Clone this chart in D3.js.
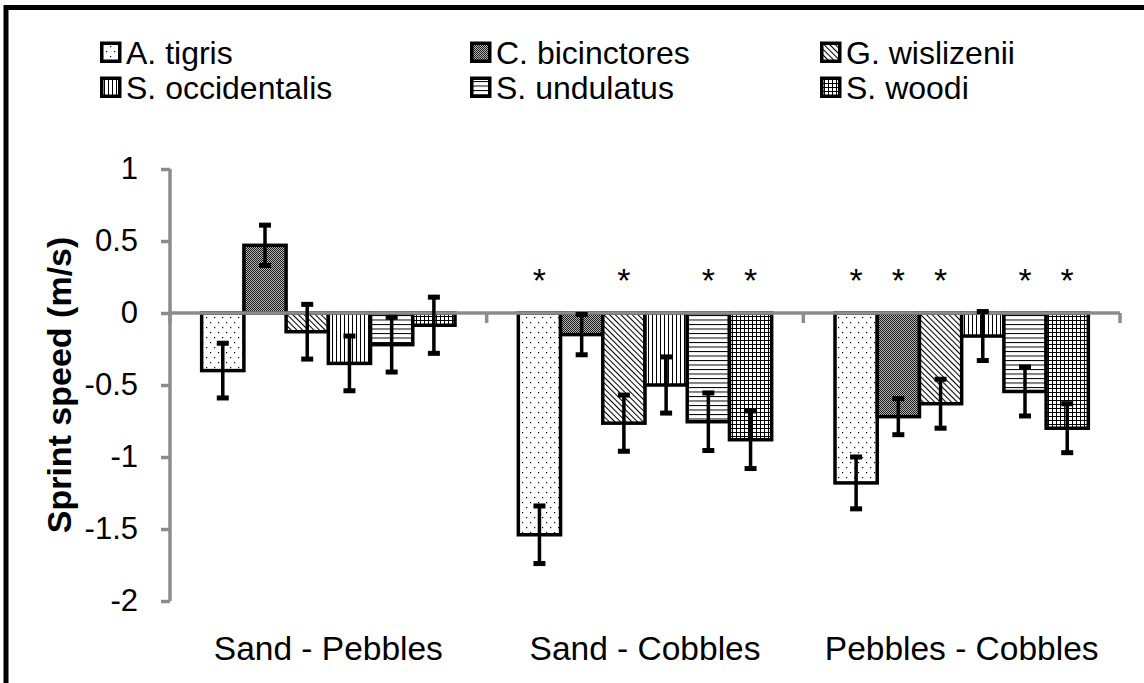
<!DOCTYPE html>
<html>
<head>
<meta charset="utf-8">
<script src="https://cdn.jsdelivr.net/npm/d3@7"></script>
<style>
  body { margin: 0; background: #fff; }
  svg text { font-family: "Liberation Sans", Arial, sans-serif; }
</style>
</head>
<body>
<div id="chart"></div>
<script>
const categories = ["Sand - Pebbles", "Sand - Cobbles", "Pebbles - Cobbles"];
const species = ["A. tigris", "C. bicinctores", "G. wislizenii", "S. occidentalis", "S. undulatus", "S. woodi"];

// mean differences (m/s), one array per comparison, species order as above
const sandPebbles = [-0.40, 0.47, -0.13, -0.35, -0.22, -0.085];
const sandCobbles = [-1.54, -0.15, -0.765, -0.50, -0.755, -0.88];
const pebblesCobbles = [-1.18, -0.72, -0.63, -0.16, -0.545, -0.80];

// error bar half-widths
const sandPebblesErr = [0.19, 0.14, 0.19, 0.19, 0.19, 0.195];
const sandCobblesErr = [0.20, 0.14, 0.195, 0.195, 0.20, 0.20];
const pebblesCobblesErr = [0.18, 0.125, 0.17, 0.17, 0.17, 0.17];

// significance markers
const sandPebblesSig = [false, false, false, false, false, false];
const sandCobblesSig = [true, false, true, false, true, true];
const pebblesCobblesSig = [true, true, true, false, true, true];

const yTicks = [1, 0.5, 0, -0.5, -1, -1.5, -2];

const means = [sandPebbles, sandCobbles, pebblesCobbles];
const errs = [sandPebblesErr, sandCobblesErr, pebblesCobblesErr];
const sigs = [sandPebblesSig, sandCobblesSig, pebblesCobblesSig];

const rows = [];
categories.forEach((c, i) => {
  species.forEach((s, j) => {
    rows.push({ cat: c, sp: s, v: means[i][j], e: errs[i][j], sig: sigs[i][j] });
  });
});

const W = 1144, H = 683;
const svg = d3.select("#chart").append("svg").attr("width", W).attr("height", H);

// fill patterns
const defs = svg.append("defs");
function pat(id, w, h, draw, transform) {
  const p = defs.append("pattern").attr("id", id)
    .attr("patternUnits", "userSpaceOnUse")
    .attr("width", w).attr("height", h);
  if (transform) p.attr("patternTransform", transform);
  p.append("rect").attr("width", w).attr("height", h).attr("fill", "#fff");
  draw(p);
}
pat("p0", 8, 10, (p) => {
  p.append("rect").attr("x", 2).attr("y", 2).attr("width", 1.2).attr("height", 1.2).attr("fill", "#000");
  p.append("rect").attr("x", 6).attr("y", 7).attr("width", 1.2).attr("height", 1.2).attr("fill", "#000");
});
pat("p1", 2, 2, (p) => {
  p.select("rect").attr("fill", "#b5b5b5");
  p.append("rect").attr("x", 0).attr("y", 0).attr("width", 1).attr("height", 1).attr("fill", "#1a1a1a");
  p.append("rect").attr("x", 1).attr("y", 1).attr("width", 1).attr("height", 1).attr("fill", "#1a1a1a");
});
pat("p2", 4, 4, (p) => {
  p.append("line").attr("x1", 0.5).attr("x2", 0.5).attr("y1", 0).attr("y2", 4).attr("stroke", "#000").attr("stroke-width", 1.1);
}, "rotate(-45)");
pat("p3", 4, 4, (p) => {
  p.append("line").attr("x1", 0.5).attr("x2", 0.5).attr("y1", 0).attr("y2", 4).attr("stroke", "#000").attr("stroke-width", 1);
});
pat("p4", 4, 4.5, (p) => {
  p.append("line").attr("y1", 0.5).attr("y2", 0.5).attr("x1", 0).attr("x2", 4).attr("stroke", "#000").attr("stroke-width", 1);
});
pat("p5", 4, 4, (p) => {
  p.append("line").attr("x1", 0.5).attr("x2", 0.5).attr("y1", 0).attr("y2", 4).attr("stroke", "#000").attr("stroke-width", 1);
  p.append("line").attr("y1", 0.5).attr("y2", 0.5).attr("x1", 0).attr("x2", 4).attr("stroke", "#000").attr("stroke-width", 1);
});
const fillOf = d3.scaleOrdinal().domain(species).range(species.map((s, i) => `url(#p${i})`));

// outer frame (top and left edges visible)
svg.append("path")
  .attr("d", `M6,${H} V7.5 H${W}`)
  .attr("fill", "none").attr("stroke", "#000").attr("stroke-width", 5);

// scales
const x0 = d3.scaleBand().domain(categories).range([170, 1120]);
const x1 = d3.scaleBand().domain(species).range([0, x0.bandwidth()]).paddingOuter(0.75);
const y = d3.scaleLinear().domain([-2, 1]).range([601, 169]);

const axisGray = "#8c8c8c";

// bars
svg.append("g")
  .selectAll("rect")
  .data(rows)
  .join("rect")
  .attr("x", (d) => x0(d.cat) + x1(d.sp))
  .attr("width", x1.bandwidth())
  .attr("y", (d) => y(Math.max(0, d.v)))
  .attr("height", (d) => Math.abs(y(d.v) - y(0)))
  .attr("fill", (d) => fillOf(d.sp))
  .attr("stroke", "#000")
  .attr("stroke-width", 3.5);

// y axis
const yAxis = svg.append("g")
  .attr("transform", "translate(170,0)")
  .call(d3.axisLeft(y).tickValues(yTicks).tickSize(9).tickPadding(23).tickFormat((d) => String(d)));
yAxis.select(".domain").attr("stroke", axisGray).attr("stroke-width", 3.5)
  .attr("d", `M0,${y(1)}V${y(-2)}`);
yAxis.selectAll(".tick line").attr("stroke", axisGray).attr("stroke-width", 3.5);
yAxis.selectAll(".tick text")
  .attr("font-size", 31).attr("fill", "#000")
  .attr("font-family", "Liberation Sans, Arial, sans-serif");

// zero line with category boundary ticks
const xEdges = categories.map((c) => x0(c)).concat([x0.range()[1]]);
svg.append("line")
  .attr("x1", 170).attr("x2", x0.range()[1])
  .attr("y1", y(0)).attr("y2", y(0))
  .attr("stroke", axisGray).attr("stroke-width", 3.5);
svg.append("g")
  .selectAll("line")
  .data(xEdges)
  .join("line")
  .attr("x1", (d) => d).attr("x2", (d) => d)
  .attr("y1", y(0)).attr("y2", y(0) + 10)
  .attr("stroke", axisGray).attr("stroke-width", 3.5);

// error bars
const eb = svg.append("g").selectAll("g").data(rows).join("g")
  .attr("transform", (d) => `translate(${x0(d.cat) + x1(d.sp) + x1.bandwidth() / 2},0)`);
eb.append("line")
  .attr("y1", (d) => y(d.v + d.e)).attr("y2", (d) => y(d.v - d.e))
  .attr("stroke", "#000").attr("stroke-width", 3.5);
eb.selectAll("rect.cap")
  .data((d) => [d.v + d.e, d.v - d.e])
  .join("rect")
  .attr("class", "cap")
  .attr("x", -6).attr("width", 12)
  .attr("y", (d) => y(d) - 2.5).attr("height", 5)
  .attr("fill", "#000");

// significance asterisks
svg.append("g")
  .selectAll("text")
  .data(rows.filter((d) => d.sig))
  .join("text")
  .attr("x", (d) => x0(d.cat) + x1(d.sp) + x1.bandwidth() / 2)
  .attr("y", 292)
  .attr("text-anchor", "middle")
  .attr("font-size", 34)
  .text("*");

// category labels
svg.append("g")
  .selectAll("text")
  .data(categories)
  .join("text")
  .attr("x", (d) => x0(d) + x0.bandwidth() / 2)
  .attr("y", 660)
  .attr("text-anchor", "middle")
  .attr("font-size", 33.5)
  .text((d) => d);

// y title
svg.append("text")
  .attr("transform", `translate(71,${y(-0.5)}) rotate(-90)`)
  .attr("text-anchor", "middle")
  .attr("font-size", 34)
  .attr("font-weight", "bold")
  .text("Sprint speed (m/s)");

// legend
const legendX = [100, 470, 820];
const legend = svg.append("g")
  .selectAll("g")
  .data(species)
  .join("g")
  .attr("transform", (d, i) => `translate(${legendX[i % 3]},${i < 3 ? 64 : 99})`);
legend.append("rect")
  .attr("x", 1.75).attr("y", -20.75)
  .attr("width", 18).attr("height", 18)
  .attr("fill", (d) => fillOf(d))
  .attr("stroke", "#000").attr("stroke-width", 3.5);
legend.append("text")
  .attr("x", 26).attr("y", 0)
  .attr("font-size", 32)
  .text((d) => d);
</script>
</body>
</html>
